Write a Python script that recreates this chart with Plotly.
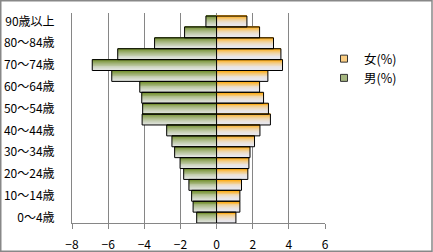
import plotly.graph_objects as go

ages = ["0～4歳", "5～9歳", "10～14歳", "15～19歳", "20～24歳", "25～29歳", "30～34歳",
        "35～39歳", "40～44歳", "45～49歳", "50～54歳", "55～59歳", "60～64歳", "65～69歳",
        "70～74歳", "75～79歳", "80～84歳", "85～89歳", "90歳以上"]
male = [1.10, 1.30, 1.38, 1.53, 1.82, 2.02, 2.32, 2.47, 2.76, 4.12, 4.09, 4.14, 4.25,
        5.80, 6.88, 5.47, 3.43, 1.77, 0.59]
female = [1.07, 1.29, 1.29, 1.38, 1.73, 1.79, 1.85, 2.10, 2.40, 2.98, 2.87, 2.60, 2.38,
          2.84, 3.65, 3.56, 3.15, 2.38, 1.68]
x_ticks = [-8, -6, -4, -2, 0, 2, 4, 6]

W, H = 433, 252
ML, MR, MT, MB = 72, 10, 13, 29
PW, PH = W - ML - MR, H - MT - MB
PLOT_RIGHT = 325  # px of x-axis end

FONT = "Noto Sans CJK JP, Noto Sans, sans-serif"


def mix(c1, c2, t):
    return "rgb(%d,%d,%d)" % tuple(round(a + (b - a) * t) for a, b in zip(c1, c2))


def px_x(p):
    return (p - ML) / PW


def px_y(p):
    return (H - MB - p) / PH


GREEN_TOP, GREEN_BOT = (116, 144, 46), (228, 230, 228)
ORANGE_TOP, ORANGE_BOT = (255, 170, 10), (232, 232, 240)

fig = go.Figure()
N = 12
male_x = [-v for v in male]
for series, top, bot, gamma in ((male_x, GREEN_TOP, GREEN_BOT, 1.5),
                                (female, ORANGE_TOP, ORANGE_BOT, 2.6)):
    for k in range(N):
        t = ((k + 0.5) / N) ** gamma  # 0 bottom -> 1 top
        fig.add_trace(go.Bar(
            y=ages, x=series, orientation="h",
            width=1.0 / N + 0.01, offset=-0.5 + k / N,
            marker=dict(color=mix(bot, top, t), line=dict(width=0)),
            showlegend=False, hoverinfo="skip"))
    fig.add_trace(go.Bar(
        y=ages, x=series, orientation="h", width=1.0, offset=-0.5,
        marker=dict(color="rgba(0,0,0,0)", line=dict(color="#000000", width=1)),
        showlegend=False))

# legend entries
fig.add_trace(go.Scatter(x=[None], y=[None], mode="markers", name="女(%)",
                         marker=dict(symbol="square", size=7, color="rgb(250,205,130)",
                                     line=dict(color="#333333", width=1))))
fig.add_trace(go.Scatter(x=[None], y=[None], mode="markers", name="男(%)",
                         marker=dict(symbol="square", size=7, color="rgb(165,182,128)",
                                     line=dict(color="#333333", width=1))))

fig.update_layout(
    width=W, height=H,
    margin=dict(l=ML, r=MR, t=MT, b=MB, autoexpand=False),
    paper_bgcolor="white", plot_bgcolor="white",
    barmode="overlay",
    font=dict(family=FONT, size=12, color="#000000"),
    legend=dict(x=px_x(324), xanchor="left", y=px_y(44), yanchor="top",
                bgcolor="rgba(0,0,0,0)", borderwidth=0, font=dict(size=12.5),
                traceorder="normal", itemclick=False),
    xaxis=dict(domain=[0, px_x(PLOT_RIGHT)], range=[-8, 6], tickvals=x_ticks,
               showgrid=True, gridcolor="#868686",
               gridwidth=1, zeroline=False, showline=True, linecolor="#868686",
               linewidth=1, ticks="outside", ticklen=5, tickcolor="#868686",
               tickfont=dict(size=12), ticklabelstandoff=6, fixedrange=True,
               automargin=False),
    yaxis=dict(type="category", categoryorder="array", categoryarray=ages,
               range=[-0.5, 18.78], tickvals=ages[::2], ticktext=ages[::2],
               showgrid=False, zeroline=False, showline=True, linecolor="#868686",
               linewidth=1, ticks="", ticklabelstandoff=14, tickfont=dict(size=12),
               fixedrange=True, automargin=False),
    shapes=[dict(type="rect", xref="paper", yref="paper",
                 x0=px_x(0.75), x1=px_x(W - 1.0),
                 y0=px_y(H - 0.75), y1=px_y(0.75),
                 line=dict(color="#888888", width=1.5), fillcolor="rgba(0,0,0,0)")],
)

fig.write_html("out.html")
